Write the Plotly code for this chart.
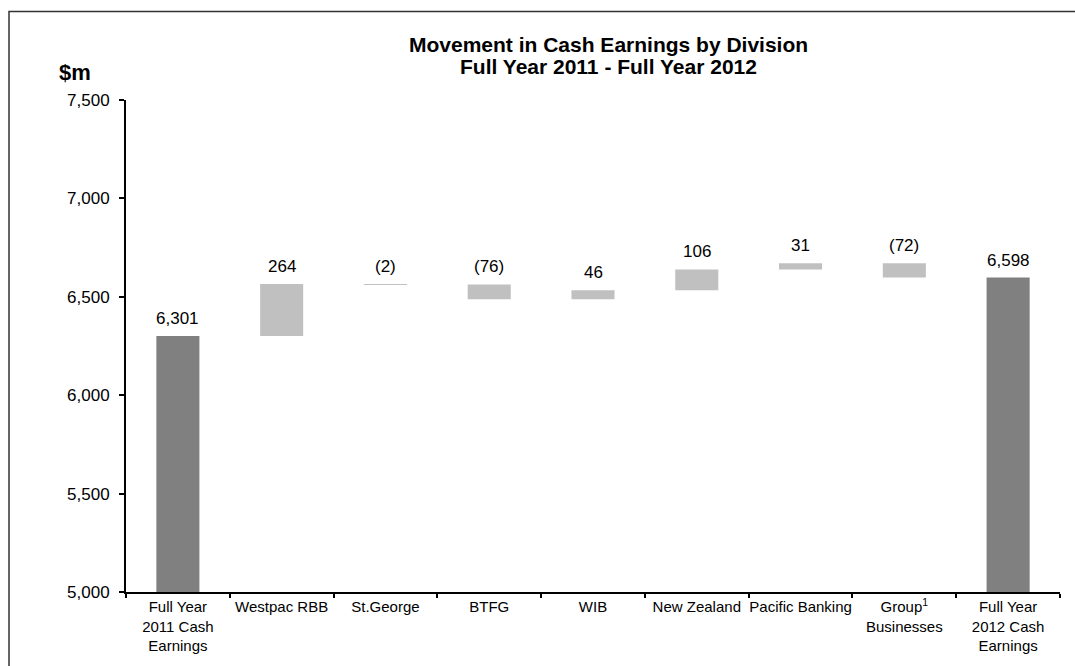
import numpy as np
import plotly.graph_objects as go

categories = ["Full Year<br>2011 Cash<br>Earnings", "Westpac RBB", "St.George", "BTFG", "WIB",
              "New Zealand", "Pacific Banking", "Group<sup>1</sup><br>Businesses",
              "Full Year<br>2012 Cash<br>Earnings"]
start_value = 6301
movements = [264, -2, -76, 46, 106, 31, -72]
end_value = 6598
y_ticks = [5000, 5500, 6000, 6500, 7000, 7500]
title_lines = ["Movement in Cash Earnings by Division", "Full Year 2011 - Full Year 2012"]

# build floating bars
cum = start_value + np.cumsum([0] + movements)
bases = [0]
heights = [start_value]
labels = [f"{start_value:,}"]
colors = ["#808080"]
for i, m in enumerate(movements):
    prev, cur = cum[i], cum[i + 1]
    bases.append(min(prev, cur))
    heights.append(abs(m))
    labels.append(f"({abs(m)})" if m < 0 else f"{m}")
    colors.append("#C0C0C0")
bases.append(0)
heights.append(end_value)
labels.append(f"{end_value:,}")
colors.append("#808080")

FONT = "Arial, Liberation Sans, sans-serif"

fig = go.Figure()
fig.add_trace(go.Bar(
    x=categories, y=heights, base=bases,
    marker=dict(color=colors, line=dict(width=0)),
    width=0.415, hoverinfo="skip",
))

tops = [b + h for b, h in zip(bases, heights)]
for c, t, lab in zip(categories, tops, labels):
    fig.add_annotation(x=c, y=t, text=lab, showarrow=False, yanchor="bottom",
                       yshift=6, font=dict(family=FONT, size=17, color="#000"))

for line, py in zip(title_lines, [44, 67]):
    fig.add_annotation(xref="paper", yref="paper", x=(608 - 126) / 934, y=(592 - py) / 492,
                       text=f"<b>{line}</b>", showarrow=False, yanchor="middle", xanchor="center",
                       borderpad=0, font=dict(family=FONT, size=21, color="#000"))
fig.add_annotation(xref="paper", yref="paper", x=(75 - 126) / 934, y=(592 - 72) / 492,
                   text="<b>$m</b>", showarrow=False, xanchor="center", yanchor="middle",
                   font=dict(family=FONT, size=22, color="#000"))

fig.add_shape(type="rect", xref="paper", yref="paper",
              x0=(9 - 126) / 934, x1=1.1, y0=-0.3, y1=(592 - 11.5) / 492,
              line=dict(color="#333333", width=1.5), layer="below")

fig.update_layout(
    width=1075, height=666,
    margin=dict(l=126, r=15, t=100, b=74),
    paper_bgcolor="white", plot_bgcolor="white",
    showlegend=False,
    font=dict(family=FONT, color="#000"),
)
fig.update_yaxes(range=[5000, 7500], tickvals=y_ticks, tickformat=",",
                 showgrid=False, zeroline=False, showline=True, linecolor="#000", linewidth=2,
                 ticks="outside", ticklen=5, tickcolor="#000", tickwidth=1.5,
                 ticklabelstandoff=6, tickfont=dict(family=FONT, size=17, color="#000"))
fig.update_xaxes(showgrid=False, showline=True, linecolor="#000", linewidth=2,
                 ticks="outside", tickson="boundaries", ticklen=4, tickcolor="#000", tickwidth=1.5,
                 tickangle=0, tickfont=dict(family=FONT, size=15, color="#000"))

fig.write_html("out.html", config={"displayModeBar": False},
               post_script="document.body.style.margin='0';")
